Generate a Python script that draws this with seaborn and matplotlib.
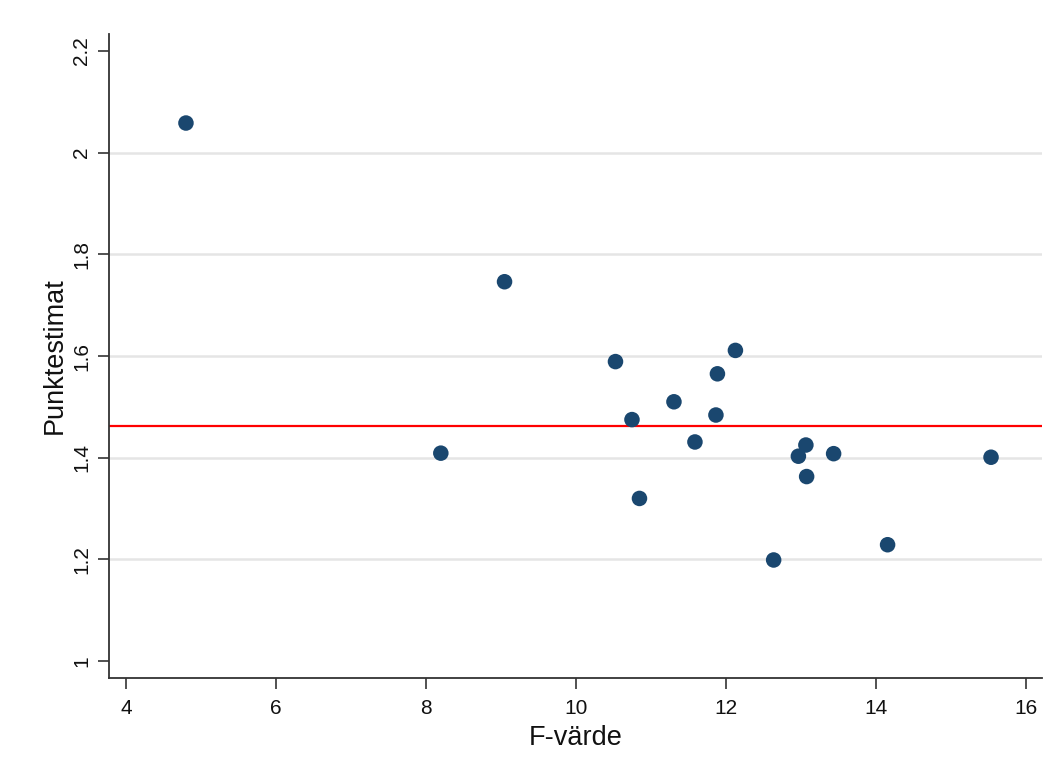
import matplotlib
matplotlib.use("Agg")
import matplotlib.pyplot as plt
import seaborn as sns
import pandas as pd

# Data
f_value = [4.80, 9.05, 8.20, 10.53, 10.75, 10.85, 11.31, 11.59, 11.87, 11.89,
           12.13, 12.64, 12.97, 13.07, 13.08, 13.44, 14.16, 15.54]
point_estimate = [2.058, 1.746, 1.409, 1.589, 1.475, 1.320, 1.510, 1.431, 1.484, 1.565,
                  1.611, 1.199, 1.403, 1.425, 1.363, 1.408, 1.229, 1.401]
reference_line = 1.4626
x_ticks = [4, 6, 8, 10, 12, 14, 16]
y_ticks = [1, 1.2, 1.4, 1.6, 1.8, 2, 2.2]
y_tick_labels = ["1", "1.2", "1.4", "1.6", "1.8", "2", "2.2"]

df = pd.DataFrame({"F-värde": f_value, "Punktestimat": point_estimate})

sns.set_theme(style="ticks", rc={
    "xtick.bottom": True, "ytick.left": True,
    "xtick.major.size": 8, "ytick.major.size": 8,
    "xtick.major.width": 1.2, "ytick.major.width": 1.2,
    "xtick.color": "#333333", "ytick.color": "#333333",
})
plt.rcParams["font.family"] = ["Liberation Sans", "DejaVu Sans"]

fig = plt.figure(figsize=(10.61, 7.73), dpi=100)
ax = fig.add_axes([0.1027, 0.1229, 0.9821 - 0.1027, 0.956 - 0.1229])

sns.scatterplot(data=df, x="F-värde", y="Punktestimat", ax=ax,
                color="#1a476f", s=125, edgecolor="none", zorder=3)
ax.axhline(reference_line, color="#ff0000", lw=1.6, zorder=2)

ax.set_xlim(3.773, 16.22)
ax.set_ylim(0.967, 2.233)
ax.set_xticks(x_ticks)
ax.set_xticklabels([str(t) for t in x_ticks])
ax.set_yticks(y_ticks)
ax.set_yticklabels(y_tick_labels, rotation=90, va="center")

ax.yaxis.grid(True, color="#e5e5e5", lw=1.8)
ax.xaxis.grid(False)
ax.set_axisbelow(True)
for tick in ax.yaxis.get_major_ticks():
    if abs(tick.get_loc() - 1) < 1e-9 or abs(tick.get_loc() - 2.2) < 1e-9:
        tick.gridline.set_visible(False)

for side in ["top", "right"]:
    ax.spines[side].set_visible(False)
for side in ["left", "bottom"]:
    ax.spines[side].set_color("#333333")
    ax.spines[side].set_linewidth(1.3)

ax.tick_params(axis="x", labelsize=15, labelcolor="#111111", pad=7)
ax.tick_params(axis="y", labelsize=15, labelcolor="#111111", pad=5)
ax.set_xlabel("F-värde", fontsize=19.5, color="#111111", labelpad=5)
ax.set_ylabel("Punktestimat", fontsize=19.5, color="#111111", labelpad=3)

fig.savefig("out.png", dpi=100, facecolor="white")
